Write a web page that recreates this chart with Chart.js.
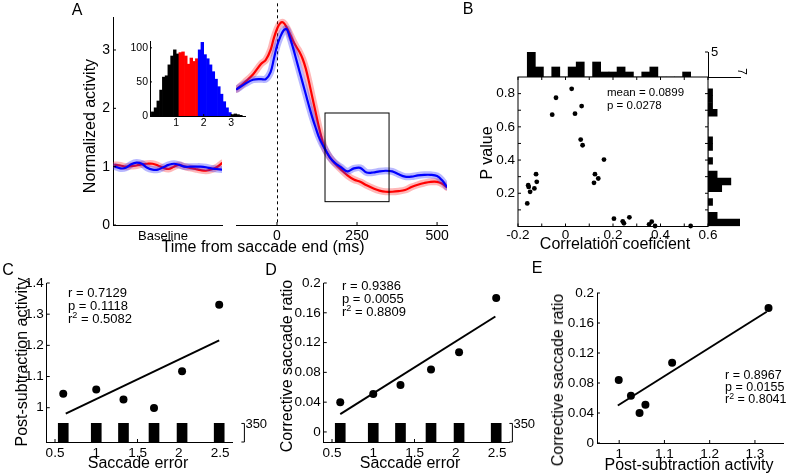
<!DOCTYPE html>
<html>
<head>
<meta charset="utf-8">
<title>Figure</title>
<script src="https://cdn.jsdelivr.net/npm/chart.js@4.4.1/dist/chart.umd.min.js"></script>
<style>
html,body{margin:0;padding:0;background:#fff;}
#fig{position:relative;width:786px;height:476px;overflow:hidden;background:#fff;font-family:"Liberation Sans",Arial,Helvetica,sans-serif;color:#000;}
#fig canvas{position:absolute;left:0;top:0;}
.t{position:absolute;white-space:nowrap;line-height:1;}
.c{transform:translate(-50%,-50%);}
.l{transform:translate(0,-50%);}
.r{transform:translate(-50%,-50%) rotate(-90deg);}
.t sup{font-size:0.7em;line-height:0;vertical-align:0.45em;}
</style>
</head>
<body>
<div id="fig">
<canvas id="cvBase" width="786" height="476"></canvas>
<canvas id="cvMain" width="786" height="476"></canvas>
<canvas id="cvInset" width="786" height="476"></canvas>
<canvas id="cvBTop" width="786" height="476"></canvas>
<canvas id="cvBSc" width="786" height="476"></canvas>
<canvas id="cvBRight" width="786" height="476"></canvas>
<canvas id="cvC" width="786" height="476"></canvas>
<canvas id="cvD" width="786" height="476"></canvas>
<canvas id="cvE" width="786" height="476"></canvas>

<div class="t c" style="left:77px;top:10px;font-size:16px">A</div>
<div class="t r" style="left:90px;top:126px;font-size:16px">Normalized activity</div>
<div class="t c" style="left:163px;top:235px;font-size:13px">Baseline</div>
<div class="t c" style="left:263px;top:247px;font-size:16px">Time from saccade end (ms)</div>

<div class="t c" style="left:468px;top:9px;font-size:16px">B</div>
<div class="t r" style="left:487px;top:153px;font-size:16px">P value</div>
<div class="t c" style="left:615px;top:244px;font-size:16px">Correlation coeficient</div>
<div class="t l" style="left:607px;top:93px;font-size:11.5px">mean = 0.0899</div>
<div class="t l" style="left:607px;top:106px;font-size:11.5px">p = 0.0278</div>

<div class="t c" style="left:8px;top:270px;font-size:16px">C</div>
<div class="t r" style="left:22px;top:362px;font-size:16px">Post-subtraction activity</div>
<div class="t c" style="left:138px;top:463px;font-size:16px">Saccade error</div>
<div class="t l" style="left:68px;top:292px;font-size:13px">r = 0.7129</div>
<div class="t l" style="left:68px;top:305px;font-size:13px">p = 0.1118</div>
<div class="t l" style="left:68px;top:318px;font-size:13px">r<sup>2</sup> = 0.5082</div>

<div class="t c" style="left:271px;top:270px;font-size:16px">D</div>
<div class="t r" style="left:287px;top:366px;font-size:16px">Corrective saccade ratio</div>
<div class="t c" style="left:410px;top:463px;font-size:16px">Saccade error</div>
<div class="t l" style="left:342px;top:285px;font-size:13px">r = 0.9386</div>
<div class="t l" style="left:342px;top:298px;font-size:13px">p = 0.0055</div>
<div class="t l" style="left:342px;top:311px;font-size:13px">r<sup>2</sup> = 0.8809</div>

<div class="t c" style="left:537px;top:268px;font-size:16px">E</div>
<div class="t r" style="left:558px;top:380px;font-size:16px">Corrective saccade ratio</div>
<div class="t c" style="left:689px;top:465px;font-size:16px">Post-subtraction activity</div>
<div class="t l" style="left:725px;top:375px;font-size:12.5px">r = 0.8967</div>
<div class="t l" style="left:725px;top:387px;font-size:12.5px">p = 0.0155</div>
<div class="t l" style="left:725px;top:399px;font-size:12.5px">r<sup>2</sup> = 0.8041</div>
</div>

<script>
// ================= DATA =================
// Panel A - baseline period (arbitrary sample index) and normalized activity
const baselineSample = [0,5,10,15,20,25,30,35,40,45,50,55,60,65,70,75,80,85,90,95,100];
const baselineRed  = [1.03,1.02,1.00,1.01,1.02,1.04,1.05,1.05,1.02,0.98,0.96,1.00,1.03,1.00,0.98,0.96,0.94,0.93,0.95,0.99,1.06];
const baselineBlue = [1.00,0.97,0.98,1.04,1.07,1.05,0.98,0.95,0.95,0.99,1.03,1.05,1.03,1.00,1.00,1.00,1.00,0.99,0.97,0.96,0.95];

// Panel A - time from saccade end (ms)
const timeMs = [-125,-100,-75,-50,-35,-20,-10,0,10,20,30,40,50,60,70,80,90,100,110,120,130,140,150,165,180,200,220,240,260,280,300,320,340,360,380,400,420,440,460,480,500,515,530];
const redActivity  = [2.33,2.45,2.58,2.76,2.83,3.00,3.20,3.36,3.46,3.47,3.39,3.28,3.16,3.06,2.97,2.85,2.68,2.45,2.20,1.95,1.70,1.48,1.30,1.16,1.06,0.95,0.85,0.78,0.74,0.68,0.63,0.59,0.57,0.57,0.58,0.60,0.65,0.69,0.72,0.74,0.74,0.71,0.65];
const blueActivity = [2.33,2.42,2.49,2.50,2.50,2.62,2.84,3.07,3.22,3.33,3.36,3.22,3.04,2.84,2.64,2.44,2.24,2.04,1.85,1.68,1.52,1.40,1.30,1.16,1.07,0.99,0.92,0.97,0.98,0.90,0.90,0.92,0.93,0.92,0.87,0.83,0.83,0.85,0.86,0.86,0.84,0.77,0.66];
const timeTicks = [0,250,500];
const activityTicks = [0,1,2,3];
const analysisWindow = [150,350];      // ms
const analysisRange = [0.40,1.92];     // activity
const zeroLineTop = 3.8;

// Panel A inset - saccade error histogram
const errHistBins   = [0.15,0.25,0.35,0.45,0.55,0.65,0.75,0.85,0.95,1.05,1.15,1.25,1.35,1.45,1.55,1.65,1.75,1.85,1.95,2.05,2.15,2.25,2.35,2.45,2.55,2.65,2.75,2.85,2.95,3.05,3.15,3.25,3.35];
const errHistCounts = [6,12,22,38,57,59,75,88,97,91,93,94,88,76,85,80,84,97,108,90,84,75,65,54,43,32,21,12,5,2,3,2,1];
const errGroupEdges = [1.1,1.8,3.0];
const insetXTicks = [1,2,3];
const insetYTicks = [0,50,100];

// Panel B - per-neuron correlation coefficient vs P value
const corrCoef = [-0.161,-0.157,-0.155,-0.149,-0.131,-0.124,-0.121,-0.056,-0.040,0.026,0.040,0.068,0.064,0.072,0.120,0.124,0.138,0.162,0.204,0.241,0.246,0.269,0.352,0.363,0.377,0.527];
const pValue   = [0.139,0.249,0.238,0.209,0.229,0.315,0.269,0.673,0.775,0.829,0.679,0.725,0.523,0.489,0.263,0.315,0.289,0.403,0.047,0.031,0.019,0.055,0.013,0.029,0.003,0.003];
const corrHistBins   = [-0.144,-0.110,-0.075,-0.041,-0.006,0.028,0.062,0.097,0.131,0.166,0.200,0.234,0.269,0.303,0.338,0.372,0.406,0.441,0.475,0.510];
const corrHistCounts = [5,2,0,2,0,2,3,0,3,1,1,2,1,0,1,2,0,0,0,1];
const pHistBins   = [0.024,0.065,0.106,0.148,0.189,0.230,0.271,0.313,0.354,0.395,0.437,0.478,0.519,0.561,0.602,0.643,0.685,0.726,0.767,0.808];
const pHistCounts = [7,2,0,1,0,3,5,2,0,1,0,1,1,0,0,0,2,1,1,1];
const bXTicks  = [-0.2,-0.1,0,0.1,0.2,0.3,0.4,0.5,0.6];
const bXLabels = ['-0.2','','0','','0.2','','0.4','','0.6'];
const bYTicks  = [0,0.1,0.2,0.3,0.4,0.5,0.6,0.7,0.8];
const bYLabels = ['','','0.2','','0.4','','0.6','','0.8'];
const corrHistMax = 5;
const pHistMax = 7;

// Panels C, D, E - saccade-error bins
const saccadeError = [0.60,1.00,1.33,1.70,2.04,2.49];
const postSubActivity = [1.045,1.058,1.026,0.999,1.117,1.330];
const correctiveRatio = [0.040,0.051,0.063,0.084,0.107,0.180];
const trialsPerBin = [350,350,350,350,350,350];
const trialScaleMark = 350;
const fitC_x = [0.63,2.49], fitC_y = [0.981,1.216];
const fitD_x = [0.60,2.48], fitD_y = [0.024,0.155];
const fitE_x = [0.997,1.326], fitE_y = [0.050,0.175];
const errTicks = [0.5,1,1.5,2,2.5];
const errLabels = ['0.5','1','1.5','2','2.5'];
const cYTicks = [1,1.1,1.2,1.3,1.4];
const cYLabels = ['1','1.1','1.2','1.3','1.4'];
const ratioTicks = [0,0.04,0.08,0.12,0.16,0.2];
const ratioLabels = ['0','0.04','0.08','0.12','0.16','0.2'];
const eXTicks = [1,1.1,1.2,1.3];
const eXLabels = ['1','1.1','1.2','1.3'];

// ================= LAYOUT / STYLE =================
const W = 786, H = 476;
const FONT = '"Liberation Sans", Arial, Helvetica, sans-serif';
const AREA = {
  base:  [113, 17.3, 222, 225],
  main:  [236, 3.33, 447, 225],
  inset: [150, 41, 245, 116],
  bTop:  [518, 52, 708, 77],
  bSc:   [518, 77, 708, 226.5],
  bRight:[708, 77, 740, 226.5],
  c:     [46.75, 283, 232.4, 442],
  d:     [323.75, 283, 509.4, 442],
  e:     [597, 293, 783, 443]
};
const RED = '#ff0000', BLUE = '#0000ff';
const RED_BAND = 'rgba(255,40,40,0.33)', BLUE_BAND = 'rgba(40,40,255,0.33)';

Chart.defaults.font.family = FONT;
Chart.defaults.color = '#000';
Chart.defaults.animation = false;
Chart.defaults.responsive = false;
Chart.defaults.events = [];
Chart.defaults.plugins.legend.display = false;
Chart.defaults.plugins.tooltip.enabled = false;

// padding so that chart area == area, given fixed axis box sizes
function padFor(a, s){
  s = s || {};
  return {left:a[0]-(s.left||0), top:a[1]-(s.top||0), right:W-a[2]-(s.right||0), bottom:H-a[3]-(s.bottom||0)};
}

function axis(o){
  const size = o.size || 0;
  const cfg = {
    type:'linear', min:o.min, max:o.max, display: o.display !== false,
    offset:false,
    grid:{display:false, drawTicks:false, offset:false},
    border:{display: !!o.border, color:'#000', width:1},
    ticks:{display: !!o.labels, color:'#000', padding: (o.pad!==undefined?o.pad:3),
           font:{size:o.fs||13, family:FONT}, maxRotation:0, minRotation:0, autoSkip:false},
    afterFit: o.horiz ? (s => { s.height = size; }) : (s => { s.width = size; })
  };
  if (o.position) cfg.position = o.position;
  if (o.tickVals) { const tv = o.tickVals; cfg.afterBuildTicks = s => { s.ticks = tv.map(v => ({value:v})); }; }
  if (o.labels) { const lb = o.labels; cfg.ticks.callback = (v, i) => lb[i]; }
  return cfg;
}

// inward (MATLAB style) tick marks + optional box
const inTicks = {
  id:'inTicks',
  afterDraw(chart, args, opts){
    const ctx = chart.ctx, ca = chart.chartArea;
    ctx.save(); ctx.strokeStyle = '#000'; ctx.lineWidth = 1;
    if (opts.box) ctx.strokeRect(ca.left, ca.top, ca.right-ca.left, ca.bottom-ca.top);
    (opts.list||[]).forEach(sp => {
      const s = chart.scales[sp.scale]; const len = sp.len || 3;
      s.ticks.forEach(t => {
        const p = s.getPixelForValue(t.value);
        ctx.beginPath();
        if (sp.side==='left'){ ctx.moveTo(ca.left,p); ctx.lineTo(ca.left+len,p); }
        else if (sp.side==='right'){ ctx.moveTo(ca.right,p); ctx.lineTo(ca.right-len,p); }
        else if (sp.side==='bottom'){ ctx.moveTo(p,ca.bottom); ctx.lineTo(p,ca.bottom-len); }
        else { ctx.moveTo(p,ca.top); ctx.lineTo(p,ca.top+len); }
        ctx.stroke();
      });
    });
    ctx.restore();
  }
};

// dashed saccade-end line and analysis window box
const aExtras = {
  id:'aExtras',
  beforeDatasetsDraw(chart, args, o){
    const x = chart.scales.x, y = chart.scales.y, ctx = chart.ctx;
    ctx.save(); ctx.strokeStyle='#000'; ctx.lineWidth=1; ctx.setLineDash([3,3]);
    const px = Math.round(x.getPixelForValue(0)) + 0.5;
    ctx.beginPath(); ctx.moveTo(px, y.getPixelForValue(o.top)); ctx.lineTo(px, y.getPixelForValue(0)); ctx.stroke();
    ctx.restore();
  },
  afterDatasetsDraw(chart, args, o){
    const x = chart.scales.x, y = chart.scales.y, ctx = chart.ctx;
    ctx.save(); ctx.strokeStyle='#000'; ctx.lineWidth=1;
    const l = x.getPixelForValue(o.win[0]), r = x.getPixelForValue(o.win[1]);
    const t = y.getPixelForValue(o.rng[1]), b = y.getPixelForValue(o.rng[0]);
    ctx.strokeRect(l, t, r-l, b-t);
    ctx.restore();
  }
};

// count scale bracket "]350"
const bracket = {
  id:'bracket',
  afterDraw(chart, args, o){
    const s = chart.scales.yb, ca = chart.chartArea, ctx = chart.ctx;
    const x = ca.right + o.gap, y0 = s.getPixelForValue(0), y1 = s.getPixelForValue(o.value);
    ctx.save(); ctx.strokeStyle='#000'; ctx.lineWidth=1;
    ctx.beginPath(); ctx.moveTo(x-3,y1); ctx.lineTo(x,y1); ctx.lineTo(x,y0); ctx.lineTo(x-3,y0); ctx.stroke();
    ctx.fillStyle='#000'; ctx.font='13px '+FONT; ctx.textAlign='left'; ctx.textBaseline='middle';
    ctx.fillText(String(o.value), x+1, y1+1);
    ctx.restore();
  }
};

// rotated max-count label for the side histogram
const rotLabel = {
  id:'rotLabel',
  afterDraw(chart, args, o){
    const s = chart.scales.x, ca = chart.chartArea, ctx = chart.ctx;
    ctx.save(); ctx.fillStyle='#000'; ctx.font='12px '+FONT;
    ctx.translate(s.getPixelForValue(o.value)+1, ca.top - 2);
    ctx.rotate(Math.PI/2);
    ctx.textAlign='right'; ctx.textBaseline='middle';
    ctx.fillText(String(o.value), 0, 0);
    ctx.restore();
  }
};

function xy(xs, ys){ return xs.map((x,i) => ({x:x, y:ys[i]})); }
function trace(xs, ys, color, width, order){
  return {type:'line', data:xy(xs,ys), borderColor:color, borderWidth:width, pointRadius:0,
          tension:0.35, fill:false, order:order, borderJoinStyle:'round', borderCapStyle:'round'};
}
function groupColor(b){
  if (b < errGroupEdges[0]) return '#000000';
  if (b < errGroupEdges[1]) return RED;
  if (b < errGroupEdges[2]) return BLUE;
  return '#000000';
}

// ================= PANEL A: baseline =================
new Chart(document.getElementById('cvBase'), {
  type:'line',
  data:{datasets:[
    trace(baselineSample, baselineRed, RED_BAND, 7, 4),
    trace(baselineSample, baselineRed, RED, 2.2, 3),
    trace(baselineSample, baselineBlue, BLUE_BAND, 7, 2),
    trace(baselineSample, baselineBlue, BLUE, 2.2, 1)
  ]},
  options:{
    layout:{padding:padFor(AREA.base, {left:40}), autoPadding:false},
    scales:{
      x: axis({min:-2, max:100, horiz:true, border:true}),
      y: axis({min:0, max:3.56, border:true, tickVals:activityTicks, labels:activityTicks.map(String), fs:14, size:40})
    },
    plugins:{inTicks:{list:[{scale:'y', side:'left'}]}}
  },
  plugins:[inTicks]
});

// ================= PANEL A: aligned to saccade end =================
new Chart(document.getElementById('cvMain'), {
  type:'line',
  data:{datasets:[
    trace(timeMs, redActivity, RED_BAND, 7, 4),
    trace(timeMs, redActivity, RED, 2.2, 3),
    trace(timeMs, blueActivity, BLUE_BAND, 7, 2),
    trace(timeMs, blueActivity, BLUE, 2.2, 1)
  ]},
  options:{
    layout:{padding:padFor(AREA.main, {bottom:24}), autoPadding:false},
    scales:{
      x: axis({min:-128, max:531, horiz:true, border:true, tickVals:timeTicks, labels:timeTicks.map(String), fs:14, pad:3, size:24}),
      y: axis({min:0, max:zeroLineTop, display:false})
    },
    plugins:{
      inTicks:{list:[{scale:'x', side:'bottom'}]},
      aExtras:{top:zeroLineTop, win:analysisWindow, rng:analysisRange}
    }
  },
  plugins:[inTicks, aExtras]
});

// ================= PANEL A: inset histogram =================
new Chart(document.getElementById('cvInset'), {
  type:'bar',
  data:{datasets:[{
    data:xy(errHistBins, errHistCounts),
    backgroundColor:errHistBins.map(groupColor),
    borderWidth:0, barPercentage:1, categoryPercentage:1
  }]},
  options:{
    layout:{padding:padFor(AREA.inset, {left:30, bottom:16}), autoPadding:false},
    scales:{
      x: axis({min:0.05, max:3.5, horiz:true, border:true, tickVals:insetXTicks, labels:insetXTicks.map(String), fs:10.5, pad:1, size:16}),
      y: axis({min:0, max:110, border:true, tickVals:insetYTicks, labels:insetYTicks.map(String), fs:10.5, pad:2, size:30})
    },
    plugins:{inTicks:{list:[{scale:'x', side:'bottom', len:2},{scale:'y', side:'left', len:2}]}}
  },
  plugins:[inTicks]
});

// ================= PANEL B: top histogram =================
new Chart(document.getElementById('cvBTop'), {
  type:'bar',
  data:{datasets:[{
    data:xy(corrHistBins, corrHistCounts), backgroundColor:'#000', borderWidth:0,
    barPercentage:1, categoryPercentage:1
  }]},
  options:{
    layout:{padding:padFor(AREA.bTop, {right:20}), autoPadding:false},
    scales:{
      x: axis({min:-0.2, max:0.6, horiz:true, display:false}),
      y: axis({min:0, max:corrHistMax, position:'right', border:true, tickVals:[corrHistMax], labels:[String(corrHistMax)], fs:13, pad:3, size:20})
    },
    plugins:{inTicks:{list:[{scale:'y', side:'right'}]}}
  },
  plugins:[inTicks]
});

// ================= PANEL B: scatter =================
new Chart(document.getElementById('cvBSc'), {
  type:'scatter',
  data:{datasets:[{
    data:xy(corrCoef, pValue), backgroundColor:'#000', borderColor:'#000',
    pointRadius:2.4, pointBorderWidth:0, clip:6
  }]},
  options:{
    layout:{padding:padFor(AREA.bSc, {left:40, bottom:24}), autoPadding:false},
    scales:{
      x: axis({min:-0.2, max:0.6, horiz:true, tickVals:bXTicks, labels:bXLabels, fs:13.5, pad:1, size:24}),
      y: axis({min:0, max:0.9, tickVals:bYTicks, labels:bYLabels, fs:13.5, pad:3, size:40})
    },
    plugins:{inTicks:{box:true, list:[
      {scale:'x', side:'bottom'},{scale:'x', side:'top'},{scale:'y', side:'left'},{scale:'y', side:'right'}
    ]}}
  },
  plugins:[inTicks]
});

// ================= PANEL B: right histogram =================
new Chart(document.getElementById('cvBRight'), {
  type:'bar',
  data:{datasets:[{
    data:pHistBins.map((b,i) => ({x:pHistCounts[i], y:b})), backgroundColor:'#000', borderWidth:0,
    barPercentage:1, categoryPercentage:1
  }]},
  options:{
    indexAxis:'y',
    layout:{padding:padFor(AREA.bRight), autoPadding:false},
    scales:{
      x: axis({min:0, max:pHistMax, horiz:true, position:'top', border:true}),
      y: axis({min:0, max:0.9, display:false})
    },
    plugins:{rotLabel:{value:pHistMax}}
  },
  plugins:[rotLabel]
});

// ================= PANELS C, D =================
function errChart(id, area, yVals, yMin, yMax, yTicks, yLabels, fitX, fitY, gap){
  return new Chart(document.getElementById(id), {
    type:'bar',
    data:{datasets:[
      {type:'bar', data:xy(saccadeError, trialsPerBin), yAxisID:'yb', backgroundColor:'#000',
       borderWidth:0, barThickness:10, order:3},
      {type:'line', data:xy(fitX, fitY), yAxisID:'y', borderColor:'#000', borderWidth:2,
       pointRadius:0, tension:0, fill:false, order:2},
      {type:'scatter', data:xy(saccadeError, yVals), yAxisID:'y', backgroundColor:'#000',
       borderColor:'#000', pointRadius:4, pointBorderWidth:0, order:1}
    ]},
    options:{
      layout:{padding:padFor(area, {left:40, bottom:24}), autoPadding:false},
      scales:{
        x: axis({min:0.4, max:2.65, horiz:true, border:true, tickVals:errTicks, labels:errLabels, fs:13.5, pad:3, size:24}),
        y: axis({min:yMin, max:yMax, border:true, tickVals:yTicks, labels:yLabels, fs:13.5, pad:3, size:40}),
        yb: axis({min:0, max:3000, position:'right', display:false})
      },
      plugins:{
        inTicks:{list:[{scale:'x', side:'bottom'},{scale:'y', side:'left'}]},
        bracket:{value:trialScaleMark, gap:gap}
      }
    },
    plugins:[inTicks, bracket]
  });
}
errChart('cvC', AREA.c, postSubActivity, 0.89, 1.4, cYTicks, cYLabels, fitC_x, fitC_y, 12);
errChart('cvD', AREA.d, correctiveRatio, -0.0135, 0.2, ratioTicks, ratioLabels, fitD_x, fitD_y, 3);

// ================= PANEL E =================
new Chart(document.getElementById('cvE'), {
  type:'scatter',
  data:{datasets:[
    {type:'line', data:xy(fitE_x, fitE_y), borderColor:'#000', borderWidth:2, pointRadius:0,
     tension:0, fill:false, order:2},
    {type:'scatter', data:xy(postSubActivity, correctiveRatio), backgroundColor:'#000',
     borderColor:'#000', pointRadius:4, pointBorderWidth:0, order:1}
  ]},
  options:{
    layout:{padding:padFor(AREA.e, {left:40, bottom:24}), autoPadding:false},
    scales:{
      x: axis({min:0.951, max:1.362, horiz:true, border:true, tickVals:eXTicks, labels:eXLabels, fs:13.5, pad:3, size:24}),
      y: axis({min:0, max:0.2, border:true, tickVals:ratioTicks, labels:ratioLabels, fs:13.5, pad:3, size:40})
    },
    plugins:{inTicks:{list:[{scale:'x', side:'bottom'},{scale:'y', side:'left'}]}}
  },
  plugins:[inTicks]
});
</script>
</body>
</html>
